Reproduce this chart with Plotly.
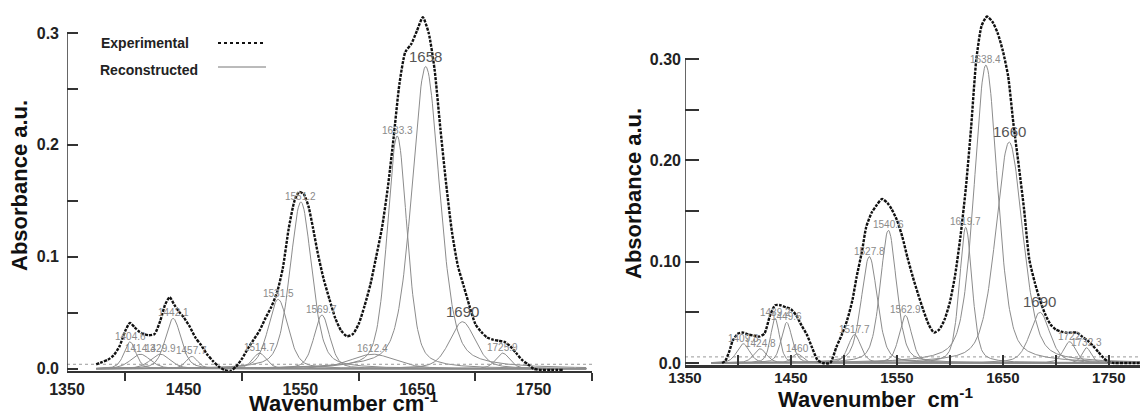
import numpy as np
import plotly.graph_objects as go

# ---- left spectrum -------------------------------------------------------
EXP_L_WN = [1375, 1380, 1385, 1390, 1395, 1400, 1404, 1408, 1412, 1416, 1420, 1425,
            1430, 1434, 1438, 1442, 1446, 1450, 1455, 1460, 1465, 1470, 1475, 1480,
            1485, 1490, 1495, 1500, 1505, 1510, 1515, 1520, 1525, 1530, 1535, 1540,
            1545, 1549, 1553, 1557, 1561, 1565, 1570, 1575, 1580, 1585, 1590, 1595,
            1600, 1605, 1610, 1615, 1620, 1625, 1630, 1635, 1640, 1645, 1650, 1655,
            1660, 1665, 1670, 1675, 1680, 1685, 1690, 1695, 1700, 1705, 1710, 1715,
            1720, 1725, 1730, 1735, 1740, 1745, 1750, 1755, 1765, 1775]
EXP_L_ABS = [0.004, 0.006, 0.008, 0.012, 0.020, 0.034, 0.041, 0.037, 0.033, 0.031, 0.030, 0.031,
             0.043, 0.057, 0.064, 0.057, 0.051, 0.046, 0.038, 0.028, 0.021, 0.013, 0.007, 0.002,
             -0.001, -0.002, 0.002, 0.009, 0.018, 0.026, 0.034, 0.045, 0.055, 0.068, 0.090, 0.125,
             0.150, 0.158, 0.156, 0.145, 0.125, 0.103, 0.080, 0.062, 0.045, 0.034, 0.029, 0.031,
             0.040, 0.056, 0.075, 0.100, 0.126, 0.162, 0.207, 0.255, 0.283, 0.290, 0.302, 0.314,
             0.300, 0.268, 0.215, 0.165, 0.122, 0.092, 0.074, 0.056, 0.040, 0.033, 0.028, 0.026,
             0.025, 0.024, 0.020, 0.014, 0.008, 0.004, 0.000, -0.001, -0.001, -0.001]

BAND_L_LABEL = ["1404.6", "1414.3", "1429.9", "1442.1", "1457.7", "1514.7", "1531.5",
                "1551.2", "1569.7", "1612.4", "1633.3", "1658", "1690", "1725.9"]
BAND_L_CENTER = [1404, 1413, 1430, 1441, 1457, 1515, 1531, 1550.5, 1568.5, 1612, 1633, 1657.5, 1689, 1723.5]
BAND_L_HEIGHT = [0.024, 0.013, 0.013, 0.045, 0.011, 0.014, 0.062, 0.149, 0.048, 0.013, 0.208, 0.270, 0.042, 0.014]
BAND_L_FWHM = [12, 20, 20, 16, 12, 14, 20, 22, 16, 45, 20, 28, 26, 14]
BASE_L = 0.004

# ---- right spectrum ------------------------------------------------------
EXP_R_WN = [1385, 1388, 1392, 1395, 1400, 1405, 1410, 1415, 1420, 1425, 1430, 1435,
            1440, 1445, 1450, 1455, 1460, 1465, 1470, 1475, 1480, 1487, 1493, 1498,
            1503, 1508, 1512, 1517, 1521, 1526, 1531, 1536, 1541, 1545, 1550, 1555,
            1560, 1565, 1570, 1575, 1580, 1585, 1590, 1595, 1600, 1605, 1610, 1615,
            1620, 1625, 1630, 1635, 1640, 1645, 1650, 1655, 1660, 1665, 1670, 1675,
            1680, 1685, 1690, 1695, 1700, 1705, 1710, 1715, 1720, 1725, 1730, 1735,
            1740, 1745, 1750, 1755, 1770, 1787]
EXP_R_ABS = [0.000, 0.002, 0.012, 0.022, 0.029, 0.030, 0.028, 0.027, 0.026, 0.029, 0.046, 0.057,
             0.057, 0.055, 0.053, 0.047, 0.037, 0.028, 0.015, 0.003, 0.000, 0.000, 0.016, 0.028,
             0.042, 0.062, 0.085, 0.110, 0.134, 0.148, 0.156, 0.162, 0.158, 0.152, 0.141, 0.125,
             0.104, 0.085, 0.068, 0.052, 0.038, 0.030, 0.033, 0.043, 0.060, 0.087, 0.125, 0.172,
             0.232, 0.300, 0.333, 0.342, 0.337, 0.326, 0.308, 0.283, 0.236, 0.195, 0.152, 0.102,
             0.080, 0.062, 0.048, 0.038, 0.033, 0.031, 0.030, 0.030, 0.030, 0.026, 0.022, 0.017,
             0.011, 0.005, 0.001, 0.000, 0.000, 0.000]

BAND_R_LABEL = ["1409.8", "1424.8", "1439.2", "1449.6", "1460", "1517.7", "1527.8", "1540.6",
                "1562.9", "1619.7", "1638.4", "1660", "1690", "1722", "1732.3"]
BAND_R_CENTER = [1405, 1421, 1435, 1446, 1456, 1510, 1524, 1542, 1558, 1615, 1634, 1656, 1685, 1713, 1729]
BAND_R_HEIGHT = [0.019, 0.014, 0.044, 0.040, 0.009, 0.028, 0.105, 0.131, 0.047, 0.134, 0.294, 0.218, 0.050, 0.021, 0.015]
BAND_R_FWHM = [14, 14, 10, 12, 12, 14, 18, 18, 14, 14, 26, 30, 22, 14, 10]
BASE_R = 0.006

BIG_LABELS = {"1658", "1690", "1660"}

FONT = "Liberation Sans, Arial, sans-serif"
# the page body keeps its default 8px margin, so the figure is drawn 8px in
OFF = 8
W, H = 1148 - OFF, 416 - OFF


def px(x):
    return (x - OFF) / W


def py(y):
    return 1 - (y - OFF) / H


def band(x, c, h, w, eta=0.4):
    u = (x - c) / w
    return h * ((1 - eta) * np.exp(-4 * np.log(2) * u ** 2) + eta / (1 + 4 * u ** 2))


fig = go.Figure()


def add_panel(xa, ya, exp_wn, exp_abs, labels, centers, heights, fwhms, base, xmax):
    grid = np.linspace(1375, xmax - 5, 600)
    for lab, c, h, w in zip(labels, centers, heights, fwhms):
        fig.add_trace(go.Scatter(x=grid, y=band(grid, c, h, w), mode="lines",
                                 line=dict(color="#8c8c8c", width=1), xaxis=xa, yaxis=ya,
                                 hoverinfo="skip", showlegend=False))
        big = lab in BIG_LABELS
        fig.add_annotation(x=c, y=h, xref=xa, yref=ya, text=lab, showarrow=False,
                           xanchor="center", yanchor="bottom", yshift=-2 if not big else 0,
                           font=dict(family=FONT, size=15 if big else 10,
                                     color="#555555" if big else "#8a8a8a"))
    fig.add_trace(go.Scatter(x=[1350, xmax], y=[base, base], mode="lines",
                             line=dict(color="#9a9a9a", width=1, dash="dot"),
                             xaxis=xa, yaxis=ya, hoverinfo="skip", showlegend=False))
    fig.add_trace(go.Scatter(x=exp_wn, y=exp_abs, mode="lines",
                             line=dict(color="#111111", width=2.4, dash="3px,1.2px",
                                       shape="spline", smoothing=0.6),
                             xaxis=xa, yaxis=ya, showlegend=False))


add_panel("x", "y", EXP_L_WN, EXP_L_ABS, BAND_L_LABEL, BAND_L_CENTER, BAND_L_HEIGHT,
          BAND_L_FWHM, BASE_L, 1800)
add_panel("x2", "y2", EXP_R_WN, EXP_R_ABS, BAND_R_LABEL, BAND_R_CENTER, BAND_R_HEIGHT,
          BAND_R_FWHM, BASE_R, 1787)

tickfont = dict(family=FONT, size=16, color="#222222", weight="bold")
axis_common = dict(showgrid=False, zeroline=False, tickcolor="#333333", tickwidth=1.5,
                   automargin=False)

fig.update_layout(
    width=W, height=H,
    margin=dict(l=0, r=0, t=0, b=0, pad=0, autoexpand=False),
    paper_bgcolor="white", plot_bgcolor="white",
    showlegend=False,
    xaxis=dict(domain=[px(67), px(592)], range=[1350, 1800], anchor="y",
               tickvals=[1350, 1450, 1550, 1650, 1750], ticks="", ticklabelstandoff=3,
               minor=dict(tickvals=[1400, 1500, 1600, 1700, 1800], ticks="outside",
                          ticklen=8, tickcolor="#333333", tickwidth=1.5),
               showline=True, linecolor="#333333", linewidth=2,
               tickfont=tickfont, **axis_common),
    yaxis=dict(domain=[py(371), 1.0], range=[-0.002, 0.3223], anchor="x",
               tickvals=[0, 0.1, 0.2, 0.3], ticktext=["0.0", "0.1", "0.2", "0.3"],
               ticks="inside", ticklen=11, ticklabelstandoff=7,
               minor=dict(tickvals=[0.05, 0.15, 0.25], ticks="inside", ticklen=11,
                          tickcolor="#333333", tickwidth=1.5),
               showline=False, tickfont=tickfont, **axis_common),
    xaxis2=dict(domain=[px(685), 1.0], range=[1350, 1787], anchor="y2",
                tickvals=[1350, 1450, 1550, 1650, 1750], ticks="inside", ticklen=10,
                ticklabelstandoff=-3,
                minor=dict(tickvals=[1400, 1500, 1600, 1700], ticks="inside", ticklen=10,
                           tickcolor="#333333", tickwidth=1.5),
                showline=True, linecolor="#333333", linewidth=2.5,
                tickfont=dict(tickfont, size=15), **axis_common),
    yaxis2=dict(domain=[py(365), 1.0], range=[-0.002, 0.3504], anchor="x2",
                tickvals=[0, 0.1, 0.2, 0.3], ticktext=["0.0", "0.10", "0.20", "0.30"],
                ticks="inside", ticklen=14, ticklabelstandoff=3,
                minor=dict(tickvals=[0.05, 0.15, 0.25], ticks="inside", ticklen=14,
                           tickcolor="#333333", tickwidth=1.5),
                showline=False, tickfont=tickfont, **axis_common),
)

# y axis lines stop at the top labelled tick
fig.add_shape(type="line", xref="x", yref="y", x0=1350, x1=1350, y0=-0.002, y1=0.3,
              line=dict(color="#333333", width=1.5))
fig.add_shape(type="line", xref="x2", yref="y2", x0=1350, x1=1350, y0=-0.002, y1=0.3,
              line=dict(color="#333333", width=1.5))

title_font = dict(family=FONT, size=22, color="#111111", weight="bold")


def label(x, y, text, font, **kw):
    fig.add_annotation(x=px(x), y=py(y), xref="paper", yref="paper", text=text,
                       showarrow=False, font=font, yanchor="middle",
                       **{"xanchor": "center", **kw})


label(19, 186, "Absorbance a.u.", title_font, textangle=-90)
label(634, 194, "Absorbance a.u.", title_font, textangle=-90)
label(343, 402, "Wavenumber cm<sup>-1</sup>", title_font)
label(875, 398, "Wavenumber&nbsp; cm<sup>-1</sup>", title_font)

# legend drawn as text + sample lines, text on the left like the original
leg_font = dict(family=FONT, size=14, color="#222222", weight="bold")
label(99, 43, "Experimental", leg_font, xanchor="left")
label(98, 70, "Reconstructed", leg_font, xanchor="left")
fig.add_shape(type="line", xref="paper", yref="paper", x0=px(218), x1=px(266),
              y0=py(43), y1=py(43), line=dict(color="#111111", width=2, dash="dot"))
fig.add_shape(type="line", xref="paper", yref="paper", x0=px(218), x1=px(266),
              y0=py(67), y1=py(67), line=dict(color="#777777", width=1))

fig.write_html("out.html")
